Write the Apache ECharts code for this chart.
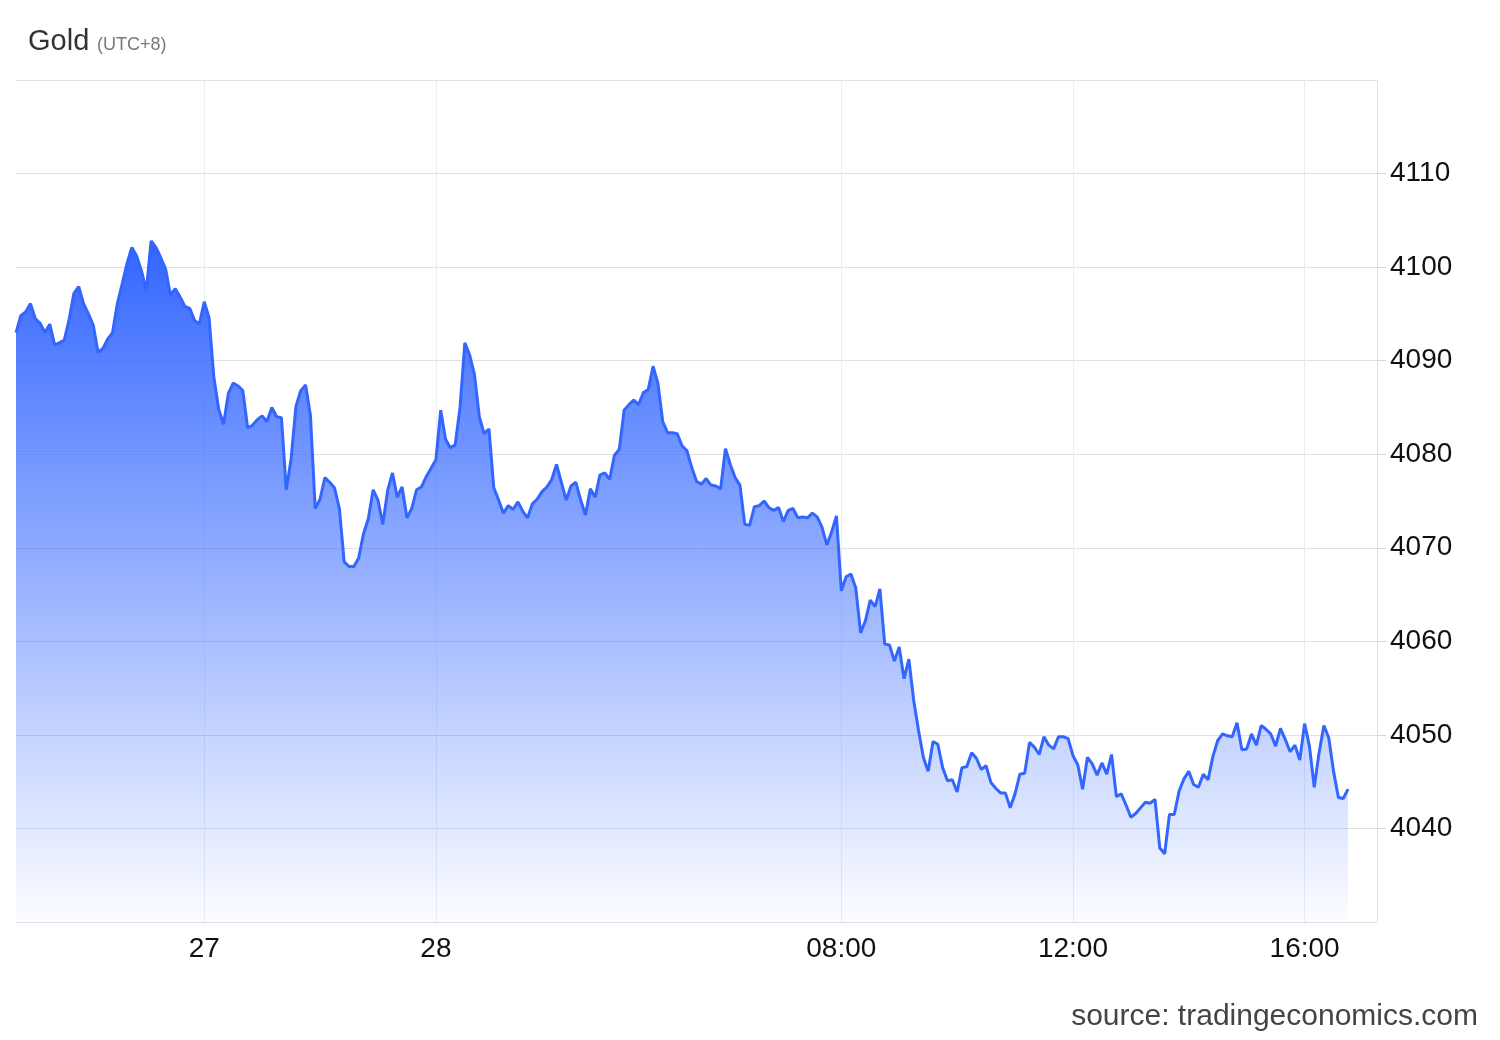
<!DOCTYPE html>
<html>
<head>
<meta charset="utf-8">
<script src="https://cdn.jsdelivr.net/npm/echarts@6/dist/echarts.min.js"></script>
<style>
html,body{margin:0;padding:0;background:#ffffff;}
#chart{width:1500px;height:1040px;}
</style>
</head>
<body>
<div id="chart"></div>
<script>
// ---- data (5-minute gold quotes) ----
const startClock = [17, 45];          // first category time (HH, MM)
const stepMinutes = 5;
const categoryCount = 283;            // axis span, data ends before the right edge

const tickLabels = [
  ['21:00', '27'],
  ['01:00', '28'],
  ['08:00', '08:00'],
  ['12:00', '12:00'],
  ['16:00', '16:00']
];

const yTicks = { min: 4030, max: 4120, step: 10 };

const goldPrice = [
  4093.0, 4094.8, 4095.2, 4096.1, 4094.5, 4094.0, 4093.0, 4093.9, 4091.7, 4091.9,
  4092.2, 4094.4, 4097.2, 4097.9, 4096.1, 4095.0, 4093.8, 4090.9, 4091.3, 4092.3,
  4093.0, 4096.1, 4098.2, 4100.4, 4102.1, 4101.2, 4099.6, 4097.5, 4102.8, 4102.1,
  4101.0, 4099.8, 4097.0, 4097.7, 4096.8, 4095.8, 4095.6, 4094.3, 4093.9, 4096.3,
  4094.6, 4088.2, 4084.8, 4083.2, 4086.5, 4087.6, 4087.3,
  4086.8, 4082.8, 4083.1, 4083.7, 4084.1, 4083.5, 4085.0, 4084.0, 4083.9, 4076.2,
  4079.5, 4085.1, 4086.8, 4087.4, 4084.2, 4074.2, 4075.2, 4077.5, 4077.0, 4076.4,
  4074.2, 4068.5, 4068.0, 4068.0, 4068.9, 4071.5, 4073.1, 4076.2, 4075.1, 4072.5,
  4076.1, 4078.0, 4075.4, 4076.5, 4073.2, 4074.2, 4076.2, 4076.5, 4077.6, 4078.5,
  4079.4, 4084.7, 4081.6, 4080.7, 4081.0, 4085.0,
  4091.9, 4090.6, 4088.5, 4084.0, 4082.2, 4082.7, 4076.4, 4075.1, 4073.7,
  4074.5, 4074.1, 4074.9, 4073.9, 4073.2, 4074.7, 4075.2, 4076.0, 4076.5, 4077.3,
  4078.9, 4077.0, 4075.1, 4076.6, 4077.0, 4075.1, 4073.5, 4076.3, 4075.4, 4077.8,
  4078.0, 4077.3, 4079.9, 4080.5, 4084.7, 4085.3, 4085.8, 4085.3, 4086.6, 4086.9,
  4089.4, 4087.6, 4083.5, 4082.3, 4082.3, 4082.2,
  4080.9, 4080.4, 4078.6, 4077.1, 4076.8, 4077.4, 4076.7, 4076.6, 4076.3, 4080.6,
  4078.9, 4077.5, 4076.7, 4072.5, 4072.4, 4074.4, 4074.5, 4075.0, 4074.3, 4074.0,
  4074.3, 4072.8, 4074.0, 4074.2, 4073.2, 4073.3, 4073.2, 4073.7, 4073.3, 4072.2,
  4070.3, 4071.7, 4073.4, 4065.4, 4066.9, 4067.2, 4065.7, 4060.9, 4062.2, 4064.4,
  4063.7, 4065.6, 4059.7, 4059.6, 4057.9, 4059.4,
  4056.0, 4058.1, 4053.7, 4050.5, 4047.6, 4046.1, 4049.3, 4049.0, 4046.5, 4045.1,
  4045.2, 4043.9, 4046.5, 4046.6, 4048.1, 4047.5, 4046.3, 4046.7, 4044.9, 4044.3,
  4043.8, 4043.8, 4042.2, 4043.7, 4045.8, 4045.9, 4049.2, 4048.7, 4047.9, 4049.8,
  4048.9, 4048.5, 4049.8, 4049.8, 4049.6, 4047.8, 4046.8, 4044.2, 4047.6, 4046.9,
  4045.7, 4047.0, 4045.8, 4047.9, 4043.4,
  4043.7, 4042.5, 4041.2, 4041.6, 4042.2, 4042.8, 4042.7, 4043.1, 4037.9, 4037.3,
  4041.5, 4041.5, 4044.0, 4045.3, 4046.1, 4044.7, 4044.4, 4045.8, 4045.2, 4047.7,
  4049.4, 4050.1, 4049.9, 4049.8, 4051.3, 4048.4, 4048.5, 4050.1, 4048.9, 4051.0,
  4050.6, 4050.1, 4048.8, 4050.7, 4049.5, 4048.2, 4048.9, 4047.3, 4051.2, 4048.8,
  4044.4, 4048.1, 4051.0, 4049.7, 4046.1, 4043.3, 4043.2, 4044.2
];

// ---- build category axis (time of day, 5-minute steps) ----
function pad(n) { return (n < 10 ? '0' : '') + n; }
const times = [];
for (let k = 0; k < categoryCount; k++) {
  const m = (startClock[0] * 60 + startClock[1] + k * stepMinutes) % 1440;
  times.push(pad(Math.floor(m / 60)) + ':' + pad(m % 60));
}
const labelMap = new Map(tickLabels);
const showTick = (idx, val) => labelMap.has(val);

const FONT = '"Liberation Sans", Arial, Helvetica, sans-serif';

const chart = echarts.init(document.getElementById('chart'), null, { renderer: 'canvas' });
chart.setOption({
  animation: false,
  backgroundColor: '#ffffff',
  textStyle: { fontFamily: FONT },
  grid: { left: 16, right: 123, top: 80, bottom: 118, containLabel: false, outerBoundsMode: 'none' },
  xAxis: {
    type: 'category',
    data: times,
    boundaryGap: false,
    axisLine: { show: true, lineStyle: { color: '#e0e0e0', width: 1 } },
    axisTick: { show: false },
    axisLabel: {
      interval: showTick,
      formatter: (val) => labelMap.get(val) || '',
      fontSize: 28,
      color: '#111111',
      fontFamily: FONT,
      margin: 13
    },
    splitLine: { show: true, interval: showTick, lineStyle: { color: '#eaeef4', width: 1 } }
  },
  yAxis: {
    type: 'value',
    position: 'right',
    min: yTicks.min,
    max: yTicks.max,
    interval: yTicks.step,
    axisLine: { show: true, lineStyle: { color: '#e0e0e0', width: 1 } },
    axisTick: { show: true, inside: false, length: 9, lineStyle: { color: '#d6d6d6', width: 1 } },
    axisLabel: {
      showMinLabel: false,
      showMaxLabel: false,
      formatter: (v) => String(v),
      fontSize: 28,
      color: '#111111',
      fontFamily: FONT,
      margin: 13
    },
    splitLine: { show: true, lineStyle: { color: '#e0e0e0', width: 1 } }
  },
  series: [{
    type: 'line',
    data: goldPrice,
    symbol: 'none',
    showSymbol: false,
    lineStyle: { color: '#3366ff', width: 3 },
    itemStyle: { color: '#3366ff' },
    areaStyle: {
      opacity: 1,
      color: new echarts.graphic.LinearGradient(0, 0, 0, 1, [
        { offset: 0, color: 'rgba(51,102,255,1)' },
        { offset: 1, color: 'rgba(51,102,255,0.01)' }
      ])
    }
  }],
  graphic: [
    { type: 'text', left: 28, top: 27, style: { text: 'Gold', font: '29px ' + FONT, fill: '#333333' } },
    { type: 'text', left: 97, top: 36, style: { text: '(UTC+8)', font: '18px ' + FONT, fill: '#7a7a7a' } },
    { type: 'text', right: 22, top: 1002, style: { text: 'source: tradingeconomics.com', font: '30px ' + FONT, fill: '#444444' } }
  ]
});
</script>
</body>
</html>
